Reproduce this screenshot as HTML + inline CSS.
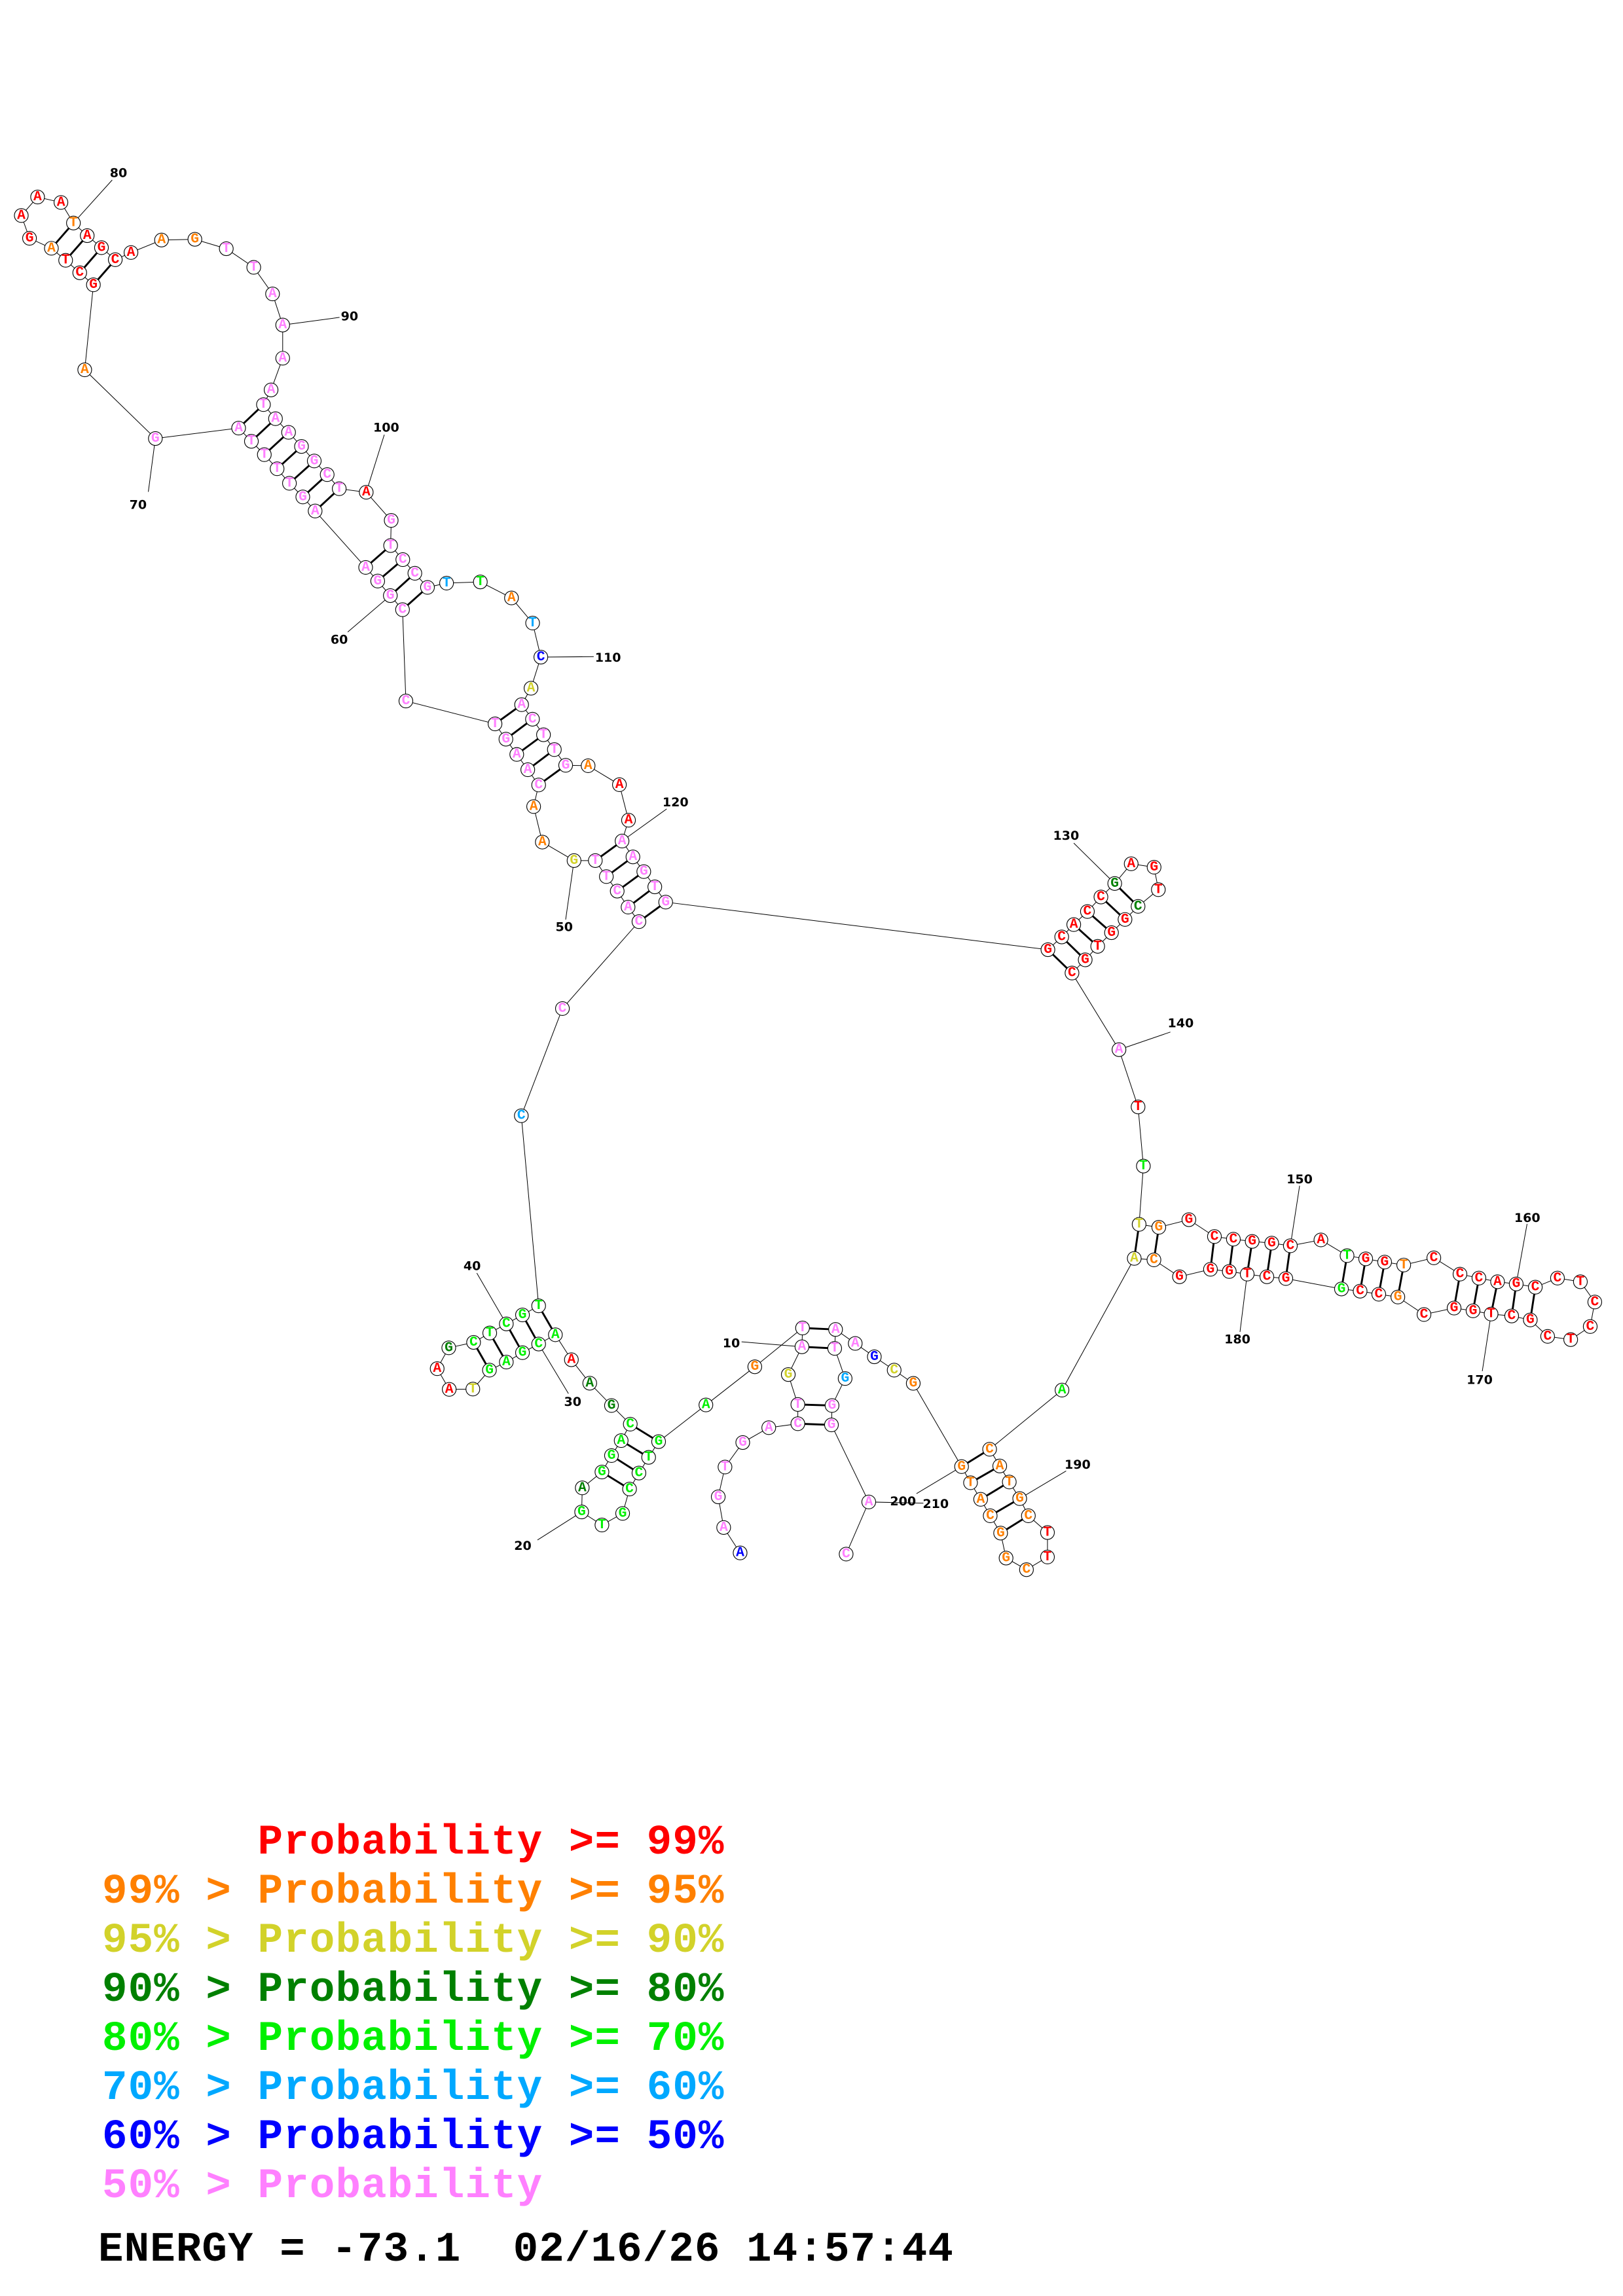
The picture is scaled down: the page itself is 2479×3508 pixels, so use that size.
<!DOCTYPE html>
<html><head><meta charset="utf-8"><style>
html,body{margin:0;padding:0;background:#fff}
svg{display:block}
.n circle{fill:#fff;stroke:#000;stroke-width:0.5}
.n text{font-family:"Liberation Mono",monospace;font-weight:bold;font-size:9.5px;text-anchor:middle;dominant-baseline:central}
.R{fill:#ff0000}.O{fill:#ff8000}.Y{fill:#d2d22a}.D{fill:#008000}.G{fill:#00f000}.L{fill:#00a8ff}.B{fill:#0000ff}.P{fill:#ff80ff}
.lb{font-family:"DejaVu Sans",sans-serif;font-weight:bold;font-size:8.5px;text-anchor:middle;dominant-baseline:central;fill:#000}
.lg{font-family:"Liberation Mono",monospace;font-weight:bold;font-size:64px;letter-spacing:1.2px;white-space:pre}
</style></head><body>
<svg width="2479" height="3508" viewBox="0 0 2479 3508" xmlns="http://www.w3.org/2000/svg">
<g transform="scale(2.243)">
<polyline fill="none" stroke="#000" stroke-width="0.45" points="504,1057.8 492.8,1040.5 489.1,1019.6 493.7,999.3 505.8,982.6 523.5,972.5 543.3,969.8 543.3,956.7 536.8,936.3 546.1,917.4 546.5,904.6 514,931 480.7,957 448.5,982 441.7,992.7 435.1,1003.4 428.7,1014.3 424,1030.9 409.9,1038.8 396.1,1029.9 396.5,1013.5 409.9,1002.7 416.4,991.5 423,981.3 429.2,970.1 416.4,957.4 401.6,942.2 389.1,926.2 378.2,909.2 366.8,915.5 355.8,921.4 344.8,927.8 333.3,933.3 322,946.2 305.9,946.4 297.7,932.3 305.6,918.1 322.5,914.4 333.5,908 344.8,901.8 355.8,895.7 366.8,889.5 355,760 383,687 435.1,627.8 427.7,617.9 420.3,607 412.9,597.1 405.4,586.2 390.9,586.2 369.3,573.6 363.4,549.4 366.8,534.7 359.4,524.3 351.9,513.9 344.5,503.5 337.1,493.1 276.4,477.5 274.1,415.3 265.8,405.7 257.2,395.8 249,386.5 214.6,348.1 206.2,338.5 197.1,329.2 188.7,319.3 180,309.7 171.2,300.6 162.5,291.6 105.8,298.7 57.7,251.9 63.6,194 54.3,185.8 44.7,177.3 35,169.1 20.1,162.3 14.5,146.8 25.6,134.2 41.5,137.9 50,151.9 59.4,160.5 69.1,168.7 78.5,176.9 89.2,172 110,163.5 132.7,163 154.1,169.4 172.8,182.1 185.6,200.2 192.5,221.4 192.5,244 184.6,265.6 179.4,275.6 187.6,285.2 196.5,294.5 205.3,304.1 214,314 222.8,323.3 231,332.9 249.4,335.3 266.4,354.5 266,371.6 274.3,381.2 282.5,390.5 291.1,400.1 304.1,397.2 327.1,396.4 348.3,407.3 362.7,424.4 368.3,447.6 361.6,468.8 355.2,480 362.6,489.9 370.1,500.5 377.5,510.6 385.2,521.3 400.5,521.6 421.8,534.5 428,558.7 423.6,572.9 431,583.7 438.4,593.7 445.9,604.1 453.3,614.5 713.6,646.9 723,638.2 731.2,629.8 740.5,620.9 749.7,611 759.1,601.8 770.3,588.4 785.9,590.7 788.8,606 775,617.4 766.1,626.3 756.9,635.3 747.5,644.6 739,653.8 730,662.8 762,715 775,754 778.6,794.3 775.7,834 789.1,836 809.6,830.8 827,842.3 839.9,844.1 852.7,845.6 866,846.8 878.7,848.6 899.5,844.6 917.3,855.3 930,857.5 942.9,859.7 955.9,861.7 976.4,856.8 994.2,867.9 1007.1,870.6 1019.8,873.1 1032.5,874.6 1045.5,876.8 1060.6,870.6 1076.2,873.1 1086,886.9 1082.9,903.6 1069.6,912.5 1053.9,910.3 1042.1,899.1 1029.4,896.4 1015.4,895.1 1003.1,892.9 990.2,891 969.7,895.4 951.9,883.5 938.9,881.6 926.2,879.5 913.5,878 875.6,870.9 862.7,869.7 849.3,867.9 837.1,866.1 824.3,864.6 803.2,869.7 785.8,858.2 772.4,857.2 723.2,946.9 673.9,987.2 680.8,998.6 687.3,1009.5 694.4,1020.8 700.3,1032.5 713.3,1043.9 713.3,1060.6 699,1069.2 685.1,1061.3 681.4,1044.3 674.3,1032.5 667.8,1021.3 660.9,1010 654.8,999 621.9,942.3 608.9,933.3 595.4,924.2 582.4,915.1 569,905.6 568.4,918.5 575.5,939 566.6,957.4 566.2,970.6 591.6,1023.1 576.2,1058.6"/>
<path fill="none" stroke="#000" stroke-width="1.3" d="M543.3 969.8L566.2 970.6M543.3 956.7L566.6 957.4M546.1 917.4L568.4 918.5M546.5 904.6L569 905.6M448.5 982L429.2 970.1M441.7 992.7L423 981.3M435.1 1003.4L416.4 991.5M428.7 1014.3L409.9 1002.7M378.2 909.2L366.8 889.5M366.8 915.5L355.8 895.7M355.8 921.4L344.8 901.8M344.8 927.8L333.5 908M333.3 933.3L322.5 914.4M435.1 627.8L453.3 614.5M427.7 617.9L445.9 604.1M420.3 607L438.4 593.7M412.9 597.1L431 583.7M405.4 586.2L423.6 572.9M366.8 534.7L385.2 521.3M359.4 524.3L377.5 510.6M351.9 513.9L370.1 500.5M344.5 503.5L362.6 489.9M337.1 493.1L355.2 480M274.1 415.3L291.1 400.1M265.8 405.7L282.5 390.5M257.2 395.8L274.3 381.2M249 386.5L266 371.6M214.6 348.1L231 332.9M206.2 338.5L222.8 323.3M197.1 329.2L214 314M188.7 319.3L205.3 304.1M180 309.7L196.5 294.5M171.2 300.6L187.6 285.2M162.5 291.6L179.4 275.6M63.6 194L78.5 176.9M54.3 185.8L69.1 168.7M44.7 177.3L59.4 160.5M35 169.1L50 151.9M713.6 646.9L730 662.8M723 638.2L739 653.8M731.2 629.8L747.5 644.6M740.5 620.9L756.9 635.3M749.7 611L766.1 626.3M759.1 601.8L775 617.4M775.7 834L772.4 857.2M789.1 836L785.8 858.2M827 842.3L824.3 864.6M839.9 844.1L837.1 866.1M852.7 845.6L849.3 867.9M866 846.8L862.7 869.7M878.7 848.6L875.6 870.9M917.3 855.3L913.5 878M930 857.5L926.2 879.5M942.9 859.7L938.9 881.6M955.9 861.7L951.9 883.5M994.2 867.9L990.2 891M1007.1 870.6L1003.1 892.9M1019.8 873.1L1015.4 895.1M1032.5 874.6L1029.4 896.4M1045.5 876.8L1042.1 899.1M673.9 987.2L654.8 999M680.8 998.6L660.9 1010M687.3 1009.5L667.8 1021.3M694.4 1020.8L674.3 1032.5M700.3 1032.5L681.4 1044.3"/>
<path fill="none" stroke="#000" stroke-width="0.45" d="M505 914L546.1 917.4M366 1049L396.1 1029.9M366.8 915.5L387.1 949.3M324.7 867.2L344.8 901.8M390.9 586.2L385.2 626.4M265.8 405.7L236.8 430.5M105.8 298.7L101 335M50 151.9L76.4 122.6M192.5 221.4L231.2 216.2M249.4 335.3L261.7 296.1M368.3 447.6L404.3 447.3M423.6 572.9L454 551M759.1 601.8L731.2 574.3M762 715L797 703M878.7 848.6L885 807.7M1032.5 874.6L1039.9 833.7M1015.4 895.1L1009.4 934M849.3 867.9L844.4 907.3M694.4 1020.8L726 1002M654.8 999L624.1 1017.4M591.6 1023.1L628.8 1023.9"/>
<g class="lbs">
<text class="lb" x="498" y="915">10</text>
<text class="lb" x="356" y="1053">20</text>
<text class="lb" x="390" y="955">30</text>
<text class="lb" x="321.5" y="862.4">40</text>
<text class="lb" x="384.2" y="631.6">50</text>
<text class="lb" x="231" y="435.8">60</text>
<text class="lb" x="94" y="344">70</text>
<text class="lb" x="80.7" y="117.9">80</text>
<text class="lb" x="238" y="215.5">90</text>
<text class="lb" x="263" y="291.3">100</text>
<text class="lb" x="414" y="448.1">110</text>
<text class="lb" x="460" y="546.6">120</text>
<text class="lb" x="726" y="569.4">130</text>
<text class="lb" x="804" y="697">140</text>
<text class="lb" x="885" y="803.3">150</text>
<text class="lb" x="1040" y="829.6">160</text>
<text class="lb" x="1007.6" y="940">170</text>
<text class="lb" x="842.6" y="912.5">180</text>
<text class="lb" x="733.8" y="997.7">190</text>
<text class="lb" x="614.9" y="1022.7">200</text>
<text class="lb" x="637.2" y="1024.6">210</text>
</g>
<g class="n">
<circle cx="504" cy="1057.8" r="4.7"/><text x="504" y="1057.8" class="B">A</text>
<circle cx="492.8" cy="1040.5" r="4.7"/><text x="492.8" y="1040.5" class="P">A</text>
<circle cx="489.1" cy="1019.6" r="4.7"/><text x="489.1" y="1019.6" class="P">G</text>
<circle cx="493.7" cy="999.3" r="4.7"/><text x="493.7" y="999.3" class="P">T</text>
<circle cx="505.8" cy="982.6" r="4.7"/><text x="505.8" y="982.6" class="P">G</text>
<circle cx="523.5" cy="972.5" r="4.7"/><text x="523.5" y="972.5" class="P">A</text>
<circle cx="543.3" cy="969.8" r="4.7"/><text x="543.3" y="969.8" class="P">C</text>
<circle cx="543.3" cy="956.7" r="4.7"/><text x="543.3" y="956.7" class="P">T</text>
<circle cx="536.8" cy="936.3" r="4.7"/><text x="536.8" y="936.3" class="Y">G</text>
<circle cx="546.1" cy="917.4" r="4.7"/><text x="546.1" y="917.4" class="P">A</text>
<circle cx="546.5" cy="904.6" r="4.7"/><text x="546.5" y="904.6" class="P">T</text>
<circle cx="514" cy="931" r="4.7"/><text x="514" y="931" class="O">G</text>
<circle cx="480.7" cy="957" r="4.7"/><text x="480.7" y="957" class="G">A</text>
<circle cx="448.5" cy="982" r="4.7"/><text x="448.5" y="982" class="G">G</text>
<circle cx="441.7" cy="992.7" r="4.7"/><text x="441.7" y="992.7" class="G">T</text>
<circle cx="435.1" cy="1003.4" r="4.7"/><text x="435.1" y="1003.4" class="G">C</text>
<circle cx="428.7" cy="1014.3" r="4.7"/><text x="428.7" y="1014.3" class="G">C</text>
<circle cx="424" cy="1030.9" r="4.7"/><text x="424" y="1030.9" class="G">G</text>
<circle cx="409.9" cy="1038.8" r="4.7"/><text x="409.9" y="1038.8" class="G">T</text>
<circle cx="396.1" cy="1029.9" r="4.7"/><text x="396.1" y="1029.9" class="G">G</text>
<circle cx="396.5" cy="1013.5" r="4.7"/><text x="396.5" y="1013.5" class="D">A</text>
<circle cx="409.9" cy="1002.7" r="4.7"/><text x="409.9" y="1002.7" class="G">G</text>
<circle cx="416.4" cy="991.5" r="4.7"/><text x="416.4" y="991.5" class="G">G</text>
<circle cx="423" cy="981.3" r="4.7"/><text x="423" y="981.3" class="G">A</text>
<circle cx="429.2" cy="970.1" r="4.7"/><text x="429.2" y="970.1" class="G">C</text>
<circle cx="416.4" cy="957.4" r="4.7"/><text x="416.4" y="957.4" class="D">G</text>
<circle cx="401.6" cy="942.2" r="4.7"/><text x="401.6" y="942.2" class="D">A</text>
<circle cx="389.1" cy="926.2" r="4.7"/><text x="389.1" y="926.2" class="R">A</text>
<circle cx="378.2" cy="909.2" r="4.7"/><text x="378.2" y="909.2" class="G">A</text>
<circle cx="366.8" cy="915.5" r="4.7"/><text x="366.8" y="915.5" class="G">C</text>
<circle cx="355.8" cy="921.4" r="4.7"/><text x="355.8" y="921.4" class="G">G</text>
<circle cx="344.8" cy="927.8" r="4.7"/><text x="344.8" y="927.8" class="G">A</text>
<circle cx="333.3" cy="933.3" r="4.7"/><text x="333.3" y="933.3" class="G">G</text>
<circle cx="322" cy="946.2" r="4.7"/><text x="322" y="946.2" class="Y">T</text>
<circle cx="305.9" cy="946.4" r="4.7"/><text x="305.9" y="946.4" class="R">A</text>
<circle cx="297.7" cy="932.3" r="4.7"/><text x="297.7" y="932.3" class="R">A</text>
<circle cx="305.6" cy="918.1" r="4.7"/><text x="305.6" y="918.1" class="D">G</text>
<circle cx="322.5" cy="914.4" r="4.7"/><text x="322.5" y="914.4" class="G">C</text>
<circle cx="333.5" cy="908" r="4.7"/><text x="333.5" y="908" class="G">T</text>
<circle cx="344.8" cy="901.8" r="4.7"/><text x="344.8" y="901.8" class="G">C</text>
<circle cx="355.8" cy="895.7" r="4.7"/><text x="355.8" y="895.7" class="G">G</text>
<circle cx="366.8" cy="889.5" r="4.7"/><text x="366.8" y="889.5" class="G">T</text>
<circle cx="355" cy="760" r="4.7"/><text x="355" y="760" class="L">C</text>
<circle cx="383" cy="687" r="4.7"/><text x="383" y="687" class="P">C</text>
<circle cx="435.1" cy="627.8" r="4.7"/><text x="435.1" y="627.8" class="P">C</text>
<circle cx="427.7" cy="617.9" r="4.7"/><text x="427.7" y="617.9" class="P">A</text>
<circle cx="420.3" cy="607" r="4.7"/><text x="420.3" y="607" class="P">C</text>
<circle cx="412.9" cy="597.1" r="4.7"/><text x="412.9" y="597.1" class="P">T</text>
<circle cx="405.4" cy="586.2" r="4.7"/><text x="405.4" y="586.2" class="P">T</text>
<circle cx="390.9" cy="586.2" r="4.7"/><text x="390.9" y="586.2" class="Y">G</text>
<circle cx="369.3" cy="573.6" r="4.7"/><text x="369.3" y="573.6" class="O">A</text>
<circle cx="363.4" cy="549.4" r="4.7"/><text x="363.4" y="549.4" class="O">A</text>
<circle cx="366.8" cy="534.7" r="4.7"/><text x="366.8" y="534.7" class="P">C</text>
<circle cx="359.4" cy="524.3" r="4.7"/><text x="359.4" y="524.3" class="P">A</text>
<circle cx="351.9" cy="513.9" r="4.7"/><text x="351.9" y="513.9" class="P">A</text>
<circle cx="344.5" cy="503.5" r="4.7"/><text x="344.5" y="503.5" class="P">G</text>
<circle cx="337.1" cy="493.1" r="4.7"/><text x="337.1" y="493.1" class="P">T</text>
<circle cx="276.4" cy="477.5" r="4.7"/><text x="276.4" y="477.5" class="P">C</text>
<circle cx="274.1" cy="415.3" r="4.7"/><text x="274.1" y="415.3" class="P">C</text>
<circle cx="265.8" cy="405.7" r="4.7"/><text x="265.8" y="405.7" class="P">G</text>
<circle cx="257.2" cy="395.8" r="4.7"/><text x="257.2" y="395.8" class="P">G</text>
<circle cx="249" cy="386.5" r="4.7"/><text x="249" y="386.5" class="P">A</text>
<circle cx="214.6" cy="348.1" r="4.7"/><text x="214.6" y="348.1" class="P">A</text>
<circle cx="206.2" cy="338.5" r="4.7"/><text x="206.2" y="338.5" class="P">G</text>
<circle cx="197.1" cy="329.2" r="4.7"/><text x="197.1" y="329.2" class="P">T</text>
<circle cx="188.7" cy="319.3" r="4.7"/><text x="188.7" y="319.3" class="P">T</text>
<circle cx="180" cy="309.7" r="4.7"/><text x="180" y="309.7" class="P">T</text>
<circle cx="171.2" cy="300.6" r="4.7"/><text x="171.2" y="300.6" class="P">T</text>
<circle cx="162.5" cy="291.6" r="4.7"/><text x="162.5" y="291.6" class="P">A</text>
<circle cx="105.8" cy="298.7" r="4.7"/><text x="105.8" y="298.7" class="P">G</text>
<circle cx="57.7" cy="251.9" r="4.7"/><text x="57.7" y="251.9" class="O">A</text>
<circle cx="63.6" cy="194" r="4.7"/><text x="63.6" y="194" class="R">G</text>
<circle cx="54.3" cy="185.8" r="4.7"/><text x="54.3" y="185.8" class="R">C</text>
<circle cx="44.7" cy="177.3" r="4.7"/><text x="44.7" y="177.3" class="R">T</text>
<circle cx="35" cy="169.1" r="4.7"/><text x="35" y="169.1" class="O">A</text>
<circle cx="20.1" cy="162.3" r="4.7"/><text x="20.1" y="162.3" class="R">G</text>
<circle cx="14.5" cy="146.8" r="4.7"/><text x="14.5" y="146.8" class="R">A</text>
<circle cx="25.6" cy="134.2" r="4.7"/><text x="25.6" y="134.2" class="R">A</text>
<circle cx="41.5" cy="137.9" r="4.7"/><text x="41.5" y="137.9" class="R">A</text>
<circle cx="50" cy="151.9" r="4.7"/><text x="50" y="151.9" class="O">T</text>
<circle cx="59.4" cy="160.5" r="4.7"/><text x="59.4" y="160.5" class="R">A</text>
<circle cx="69.1" cy="168.7" r="4.7"/><text x="69.1" y="168.7" class="R">G</text>
<circle cx="78.5" cy="176.9" r="4.7"/><text x="78.5" y="176.9" class="R">C</text>
<circle cx="89.2" cy="172" r="4.7"/><text x="89.2" y="172" class="R">A</text>
<circle cx="110" cy="163.5" r="4.7"/><text x="110" y="163.5" class="O">A</text>
<circle cx="132.7" cy="163" r="4.7"/><text x="132.7" y="163" class="O">G</text>
<circle cx="154.1" cy="169.4" r="4.7"/><text x="154.1" y="169.4" class="P">T</text>
<circle cx="172.8" cy="182.1" r="4.7"/><text x="172.8" y="182.1" class="P">T</text>
<circle cx="185.6" cy="200.2" r="4.7"/><text x="185.6" y="200.2" class="P">A</text>
<circle cx="192.5" cy="221.4" r="4.7"/><text x="192.5" y="221.4" class="P">A</text>
<circle cx="192.5" cy="244" r="4.7"/><text x="192.5" y="244" class="P">A</text>
<circle cx="184.6" cy="265.6" r="4.7"/><text x="184.6" y="265.6" class="P">A</text>
<circle cx="179.4" cy="275.6" r="4.7"/><text x="179.4" y="275.6" class="P">T</text>
<circle cx="187.6" cy="285.2" r="4.7"/><text x="187.6" y="285.2" class="P">A</text>
<circle cx="196.5" cy="294.5" r="4.7"/><text x="196.5" y="294.5" class="P">A</text>
<circle cx="205.3" cy="304.1" r="4.7"/><text x="205.3" y="304.1" class="P">G</text>
<circle cx="214" cy="314" r="4.7"/><text x="214" y="314" class="P">G</text>
<circle cx="222.8" cy="323.3" r="4.7"/><text x="222.8" y="323.3" class="P">C</text>
<circle cx="231" cy="332.9" r="4.7"/><text x="231" y="332.9" class="P">T</text>
<circle cx="249.4" cy="335.3" r="4.7"/><text x="249.4" y="335.3" class="R">A</text>
<circle cx="266.4" cy="354.5" r="4.7"/><text x="266.4" y="354.5" class="P">G</text>
<circle cx="266" cy="371.6" r="4.7"/><text x="266" y="371.6" class="P">T</text>
<circle cx="274.3" cy="381.2" r="4.7"/><text x="274.3" y="381.2" class="P">C</text>
<circle cx="282.5" cy="390.5" r="4.7"/><text x="282.5" y="390.5" class="P">C</text>
<circle cx="291.1" cy="400.1" r="4.7"/><text x="291.1" y="400.1" class="P">G</text>
<circle cx="304.1" cy="397.2" r="4.7"/><text x="304.1" y="397.2" class="L">T</text>
<circle cx="327.1" cy="396.4" r="4.7"/><text x="327.1" y="396.4" class="G">T</text>
<circle cx="348.3" cy="407.3" r="4.7"/><text x="348.3" y="407.3" class="O">A</text>
<circle cx="362.7" cy="424.4" r="4.7"/><text x="362.7" y="424.4" class="L">T</text>
<circle cx="368.3" cy="447.6" r="4.7"/><text x="368.3" y="447.6" class="B">C</text>
<circle cx="361.6" cy="468.8" r="4.7"/><text x="361.6" y="468.8" class="Y">A</text>
<circle cx="355.2" cy="480" r="4.7"/><text x="355.2" y="480" class="P">A</text>
<circle cx="362.6" cy="489.9" r="4.7"/><text x="362.6" y="489.9" class="P">C</text>
<circle cx="370.1" cy="500.5" r="4.7"/><text x="370.1" y="500.5" class="P">T</text>
<circle cx="377.5" cy="510.6" r="4.7"/><text x="377.5" y="510.6" class="P">T</text>
<circle cx="385.2" cy="521.3" r="4.7"/><text x="385.2" y="521.3" class="P">G</text>
<circle cx="400.5" cy="521.6" r="4.7"/><text x="400.5" y="521.6" class="O">A</text>
<circle cx="421.8" cy="534.5" r="4.7"/><text x="421.8" y="534.5" class="R">A</text>
<circle cx="428" cy="558.7" r="4.7"/><text x="428" y="558.7" class="R">A</text>
<circle cx="423.6" cy="572.9" r="4.7"/><text x="423.6" y="572.9" class="P">A</text>
<circle cx="431" cy="583.7" r="4.7"/><text x="431" y="583.7" class="P">A</text>
<circle cx="438.4" cy="593.7" r="4.7"/><text x="438.4" y="593.7" class="P">G</text>
<circle cx="445.9" cy="604.1" r="4.7"/><text x="445.9" y="604.1" class="P">T</text>
<circle cx="453.3" cy="614.5" r="4.7"/><text x="453.3" y="614.5" class="P">G</text>
<circle cx="713.6" cy="646.9" r="4.7"/><text x="713.6" y="646.9" class="R">G</text>
<circle cx="723" cy="638.2" r="4.7"/><text x="723" y="638.2" class="R">C</text>
<circle cx="731.2" cy="629.8" r="4.7"/><text x="731.2" y="629.8" class="R">A</text>
<circle cx="740.5" cy="620.9" r="4.7"/><text x="740.5" y="620.9" class="R">C</text>
<circle cx="749.7" cy="611" r="4.7"/><text x="749.7" y="611" class="R">C</text>
<circle cx="759.1" cy="601.8" r="4.7"/><text x="759.1" y="601.8" class="D">G</text>
<circle cx="770.3" cy="588.4" r="4.7"/><text x="770.3" y="588.4" class="R">A</text>
<circle cx="785.9" cy="590.7" r="4.7"/><text x="785.9" y="590.7" class="R">G</text>
<circle cx="788.8" cy="606" r="4.7"/><text x="788.8" y="606" class="R">T</text>
<circle cx="775" cy="617.4" r="4.7"/><text x="775" y="617.4" class="D">C</text>
<circle cx="766.1" cy="626.3" r="4.7"/><text x="766.1" y="626.3" class="R">G</text>
<circle cx="756.9" cy="635.3" r="4.7"/><text x="756.9" y="635.3" class="R">G</text>
<circle cx="747.5" cy="644.6" r="4.7"/><text x="747.5" y="644.6" class="R">T</text>
<circle cx="739" cy="653.8" r="4.7"/><text x="739" y="653.8" class="R">G</text>
<circle cx="730" cy="662.8" r="4.7"/><text x="730" y="662.8" class="R">C</text>
<circle cx="762" cy="715" r="4.7"/><text x="762" y="715" class="P">A</text>
<circle cx="775" cy="754" r="4.7"/><text x="775" y="754" class="R">T</text>
<circle cx="778.6" cy="794.3" r="4.7"/><text x="778.6" y="794.3" class="G">T</text>
<circle cx="775.7" cy="834" r="4.7"/><text x="775.7" y="834" class="Y">T</text>
<circle cx="789.1" cy="836" r="4.7"/><text x="789.1" y="836" class="O">G</text>
<circle cx="809.6" cy="830.8" r="4.7"/><text x="809.6" y="830.8" class="R">G</text>
<circle cx="827" cy="842.3" r="4.7"/><text x="827" y="842.3" class="R">C</text>
<circle cx="839.9" cy="844.1" r="4.7"/><text x="839.9" y="844.1" class="R">C</text>
<circle cx="852.7" cy="845.6" r="4.7"/><text x="852.7" y="845.6" class="R">G</text>
<circle cx="866" cy="846.8" r="4.7"/><text x="866" y="846.8" class="R">G</text>
<circle cx="878.7" cy="848.6" r="4.7"/><text x="878.7" y="848.6" class="R">C</text>
<circle cx="899.5" cy="844.6" r="4.7"/><text x="899.5" y="844.6" class="R">A</text>
<circle cx="917.3" cy="855.3" r="4.7"/><text x="917.3" y="855.3" class="G">T</text>
<circle cx="930" cy="857.5" r="4.7"/><text x="930" y="857.5" class="R">G</text>
<circle cx="942.9" cy="859.7" r="4.7"/><text x="942.9" y="859.7" class="R">G</text>
<circle cx="955.9" cy="861.7" r="4.7"/><text x="955.9" y="861.7" class="O">T</text>
<circle cx="976.4" cy="856.8" r="4.7"/><text x="976.4" y="856.8" class="R">C</text>
<circle cx="994.2" cy="867.9" r="4.7"/><text x="994.2" y="867.9" class="R">C</text>
<circle cx="1007.1" cy="870.6" r="4.7"/><text x="1007.1" y="870.6" class="R">C</text>
<circle cx="1019.8" cy="873.1" r="4.7"/><text x="1019.8" y="873.1" class="R">A</text>
<circle cx="1032.5" cy="874.6" r="4.7"/><text x="1032.5" y="874.6" class="R">G</text>
<circle cx="1045.5" cy="876.8" r="4.7"/><text x="1045.5" y="876.8" class="R">C</text>
<circle cx="1060.6" cy="870.6" r="4.7"/><text x="1060.6" y="870.6" class="R">C</text>
<circle cx="1076.2" cy="873.1" r="4.7"/><text x="1076.2" y="873.1" class="R">T</text>
<circle cx="1086" cy="886.9" r="4.7"/><text x="1086" y="886.9" class="R">C</text>
<circle cx="1082.9" cy="903.6" r="4.7"/><text x="1082.9" y="903.6" class="R">C</text>
<circle cx="1069.6" cy="912.5" r="4.7"/><text x="1069.6" y="912.5" class="R">T</text>
<circle cx="1053.9" cy="910.3" r="4.7"/><text x="1053.9" y="910.3" class="R">C</text>
<circle cx="1042.1" cy="899.1" r="4.7"/><text x="1042.1" y="899.1" class="R">G</text>
<circle cx="1029.4" cy="896.4" r="4.7"/><text x="1029.4" y="896.4" class="R">C</text>
<circle cx="1015.4" cy="895.1" r="4.7"/><text x="1015.4" y="895.1" class="R">T</text>
<circle cx="1003.1" cy="892.9" r="4.7"/><text x="1003.1" y="892.9" class="R">G</text>
<circle cx="990.2" cy="891" r="4.7"/><text x="990.2" y="891" class="R">G</text>
<circle cx="969.7" cy="895.4" r="4.7"/><text x="969.7" y="895.4" class="R">C</text>
<circle cx="951.9" cy="883.5" r="4.7"/><text x="951.9" y="883.5" class="O">G</text>
<circle cx="938.9" cy="881.6" r="4.7"/><text x="938.9" y="881.6" class="R">C</text>
<circle cx="926.2" cy="879.5" r="4.7"/><text x="926.2" y="879.5" class="R">C</text>
<circle cx="913.5" cy="878" r="4.7"/><text x="913.5" y="878" class="G">G</text>
<circle cx="875.6" cy="870.9" r="4.7"/><text x="875.6" y="870.9" class="R">G</text>
<circle cx="862.7" cy="869.7" r="4.7"/><text x="862.7" y="869.7" class="R">C</text>
<circle cx="849.3" cy="867.9" r="4.7"/><text x="849.3" y="867.9" class="R">T</text>
<circle cx="837.1" cy="866.1" r="4.7"/><text x="837.1" y="866.1" class="R">G</text>
<circle cx="824.3" cy="864.6" r="4.7"/><text x="824.3" y="864.6" class="R">G</text>
<circle cx="803.2" cy="869.7" r="4.7"/><text x="803.2" y="869.7" class="R">G</text>
<circle cx="785.8" cy="858.2" r="4.7"/><text x="785.8" y="858.2" class="O">C</text>
<circle cx="772.4" cy="857.2" r="4.7"/><text x="772.4" y="857.2" class="Y">A</text>
<circle cx="723.2" cy="946.9" r="4.7"/><text x="723.2" y="946.9" class="G">A</text>
<circle cx="673.9" cy="987.2" r="4.7"/><text x="673.9" y="987.2" class="O">C</text>
<circle cx="680.8" cy="998.6" r="4.7"/><text x="680.8" y="998.6" class="O">A</text>
<circle cx="687.3" cy="1009.5" r="4.7"/><text x="687.3" y="1009.5" class="O">T</text>
<circle cx="694.4" cy="1020.8" r="4.7"/><text x="694.4" y="1020.8" class="O">G</text>
<circle cx="700.3" cy="1032.5" r="4.7"/><text x="700.3" y="1032.5" class="O">C</text>
<circle cx="713.3" cy="1043.9" r="4.7"/><text x="713.3" y="1043.9" class="R">T</text>
<circle cx="713.3" cy="1060.6" r="4.7"/><text x="713.3" y="1060.6" class="R">T</text>
<circle cx="699" cy="1069.2" r="4.7"/><text x="699" y="1069.2" class="O">C</text>
<circle cx="685.1" cy="1061.3" r="4.7"/><text x="685.1" y="1061.3" class="O">G</text>
<circle cx="681.4" cy="1044.3" r="4.7"/><text x="681.4" y="1044.3" class="O">G</text>
<circle cx="674.3" cy="1032.5" r="4.7"/><text x="674.3" y="1032.5" class="O">C</text>
<circle cx="667.8" cy="1021.3" r="4.7"/><text x="667.8" y="1021.3" class="O">A</text>
<circle cx="660.9" cy="1010" r="4.7"/><text x="660.9" y="1010" class="O">T</text>
<circle cx="654.8" cy="999" r="4.7"/><text x="654.8" y="999" class="O">G</text>
<circle cx="621.9" cy="942.3" r="4.7"/><text x="621.9" y="942.3" class="O">G</text>
<circle cx="608.9" cy="933.3" r="4.7"/><text x="608.9" y="933.3" class="Y">C</text>
<circle cx="595.4" cy="924.2" r="4.7"/><text x="595.4" y="924.2" class="B">G</text>
<circle cx="582.4" cy="915.1" r="4.7"/><text x="582.4" y="915.1" class="P">A</text>
<circle cx="569" cy="905.6" r="4.7"/><text x="569" y="905.6" class="P">A</text>
<circle cx="568.4" cy="918.5" r="4.7"/><text x="568.4" y="918.5" class="P">T</text>
<circle cx="575.5" cy="939" r="4.7"/><text x="575.5" y="939" class="L">G</text>
<circle cx="566.6" cy="957.4" r="4.7"/><text x="566.6" y="957.4" class="P">G</text>
<circle cx="566.2" cy="970.6" r="4.7"/><text x="566.2" y="970.6" class="P">G</text>
<circle cx="591.6" cy="1023.1" r="4.7"/><text x="591.6" y="1023.1" class="P">A</text>
<circle cx="576.2" cy="1058.6" r="4.7"/><text x="576.2" y="1058.6" class="P">C</text>
</g>
</g>
<g class="lg">
<text x="156" y="2832" fill="#ff0000" xml:space="preserve">      Probability &gt;= 99%</text>
<text x="156" y="2907" fill="#ff8000" xml:space="preserve">99% &gt; Probability &gt;= 95%</text>
<text x="156" y="2982" fill="#d2d22a" xml:space="preserve">95% &gt; Probability &gt;= 90%</text>
<text x="156" y="3057" fill="#008000" xml:space="preserve">90% &gt; Probability &gt;= 80%</text>
<text x="156" y="3132" fill="#00f000" xml:space="preserve">80% &gt; Probability &gt;= 70%</text>
<text x="156" y="3207" fill="#00a8ff" xml:space="preserve">70% &gt; Probability &gt;= 60%</text>
<text x="156" y="3282" fill="#0000ff" xml:space="preserve">60% &gt; Probability &gt;= 50%</text>
<text x="156" y="3357" fill="#ff80ff" xml:space="preserve">50% &gt; Probability</text>
<text x="150" y="3454" fill="#000" xml:space="preserve">ENERGY = -73.1  02/16/26 14:57:44</text>
</g>
</svg>
</body></html>
